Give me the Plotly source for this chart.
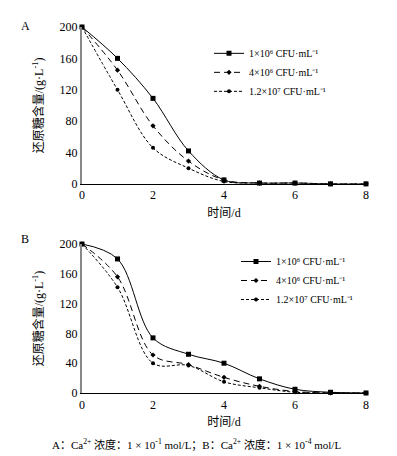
import plotly.graph_objects as go

days = [0, 1, 2, 3, 4, 5, 6, 7, 8]
series_names = ["1×10⁶ CFU·mL⁻¹",
                "4×10⁶ CFU·mL⁻¹",
                "1.2×10⁷ CFU·mL⁻¹"]
A_s1 = [200, 160, 109, 42, 5, 1, 1, 0, 0]
A_s2 = [200, 145, 74, 29, 5, 1, 1, 0, 0]
A_s3 = [200, 120, 46, 20, 3, 1, 1, 0, 0]
B_s1 = [200, 180, 74, 52, 40, 19, 5, 1, 0]
B_s2 = [200, 156, 51, 38, 21, 9, 2, 0, 0]
B_s3 = [200, 142, 40, 37, 15, 7, 1, 0, 0]
x_ticks = [0, 2, 4, 6, 8]
y_ticks = [0, 40, 80, 120, 160, 200]
y_title = "还原糖含量/(g·L<sup>-1</sup>)"
x_title = "时间/d"
caption = "A：Ca<sup>2+</sup> 浓度：1 × 10<sup>-1</sup> mol/L；B：Ca<sup>2+</sup> 浓度：1 × 10<sup>-4</sup> mol/L"

FONT = "Liberation Serif, Times New Roman, Noto Sans CJK SC"

styles = [
    dict(dash="solid", symbol="square", size=5),
    dict(dash="6px,4px", symbol="diamond", size=4),
    dict(dash="3px,2px", symbol="circle", size=4),
]

fig = go.Figure()
for panel, (data, xa, ya, leg) in enumerate([
        ([A_s1, A_s2, A_s3], "x", "y", "legend"),
        ([B_s1, B_s2, B_s3], "x2", "y2", "legend2")]):
    for i, ys in enumerate(data):
        st = styles[i]
        fig.add_trace(go.Scatter(
            x=days, y=ys, xaxis=xa, yaxis=ya, legend=leg,
            name=series_names[i], mode="lines+markers",
            line=dict(color="black", width=1, dash=st["dash"], shape="spline", smoothing=1.0),
            marker=dict(color="black", symbol=st["symbol"], size=st["size"]),
            cliponaxis=False,
        ))

W, H = 397, 456
l, r, t, b = 74, 39, 14, 71
pw, ph = W - l - r, H - t - b
def px(xp): return (xp - l) / pw
def py(yp): return (H - b - yp) / ph

axis_common = dict(range=[0, 8], tickvals=x_ticks, showgrid=False, zeroline=False,
                   showline=True, linecolor="black", linewidth=1.2, ticks="",
                   tickfont=dict(family=FONT, size=12, color="black"))
yaxis_common = dict(range=[0, 200], tickvals=y_ticks, showgrid=False, zeroline=False,
                    showline=True, linecolor="#888888", linewidth=2, ticks="",
                    tickfont=dict(family=FONT, size=12, color="black"))

legend_common = dict(font=dict(family=FONT, size=10, color="black"), bgcolor="rgba(0,0,0,0)",
                     itemwidth=30, tracegroupgap=0, xanchor="left", yanchor="top")

fig.update_layout(
    width=W, height=H,
    margin=dict(l=l, r=r, t=t, b=b),
    paper_bgcolor="white", plot_bgcolor="white",
    font=dict(family=FONT, size=12, color="black"),
    xaxis=dict(**axis_common, anchor="y", domain=[0, 1],
               title=dict(text=x_title, font=dict(family=FONT, size=12), standoff=7)),
    yaxis=dict(**yaxis_common, anchor="x", domain=[0.5714, 1.0],
               title=dict(text=y_title, font=dict(family=FONT, size=12), standoff=13)),
    xaxis2=dict(**axis_common, anchor="y2", domain=[0, 1],
                title=dict(text=x_title, font=dict(family=FONT, size=12), standoff=7)),
    yaxis2=dict(**yaxis_common, anchor="x2", domain=[0, 0.407],
                title=dict(text=y_title, font=dict(family=FONT, size=12), standoff=13)),
    legend=dict(**legend_common, x=px(201), y=py(26)),
    legend2=dict(**legend_common, x=px(228), y=py(237)),
    showlegend=True,
)

fig.add_annotation(text="A", x=px(17), y=py(13), xref="paper", yref="paper", showarrow=False,
                   xanchor="center", yanchor="middle", font=dict(family=FONT, size=12))
fig.add_annotation(text="B", x=px(17), y=py(229), xref="paper", yref="paper", showarrow=False,
                   xanchor="center", yanchor="middle", font=dict(family=FONT, size=12))
fig.add_annotation(text=caption, x=px(188), y=py(437), xref="paper", yref="paper", showarrow=False,
                   xanchor="center", yanchor="middle", font=dict(family=FONT, size=11))

fig.write_html("out.html")
